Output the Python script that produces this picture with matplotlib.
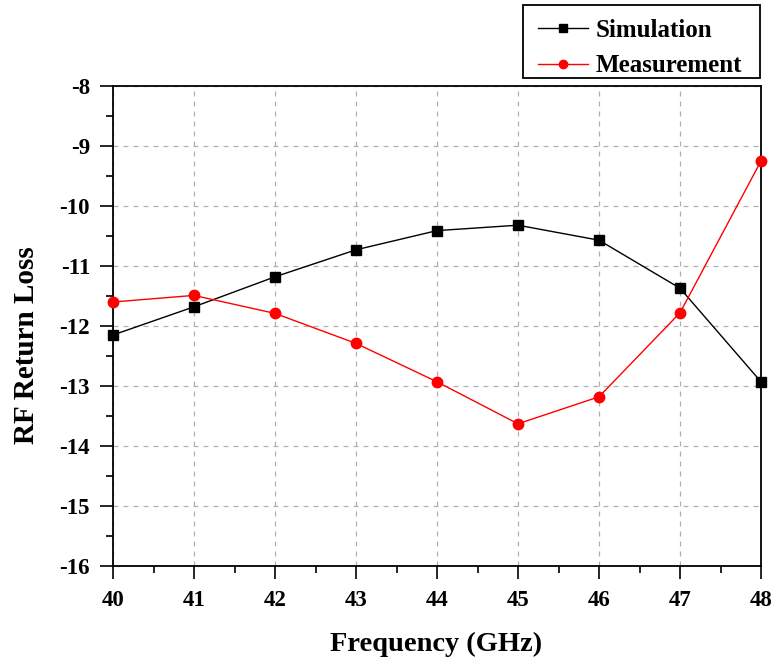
import matplotlib
matplotlib.use("Agg")
import matplotlib.pyplot as plt
from matplotlib.patches import Rectangle
from matplotlib.ticker import MultipleLocator

freq = [40, 41, 42, 43, 44, 45, 46, 47, 48]
simulation = [-12.15, -11.68, -11.18, -10.73, -10.41, -10.32, -10.57, -11.37, -12.93]
measurement = [-11.60, -11.49, -11.79, -12.29, -12.93, -13.63, -13.18, -11.78, -9.25]
x_ticks = [40, 41, 42, 43, 44, 45, 46, 47, 48]
y_ticks = [-16, -15, -14, -13, -12, -11, -10, -9, -8]

plt.rcParams["font.family"] = ["Liberation Serif", "DejaVu Serif"]
plt.rcParams["font.weight"] = "bold"

W, H = 775, 666
fig = plt.figure(figsize=(W / 100, H / 100), dpi=100)
ax = fig.add_axes([113 / W, 100 / H, (761 - 113) / W, (566 - 86) / H])

ax.plot(freq, simulation, color="black", lw=1.0, marker="s", ms=7,
        label="Simulation", clip_on=False, zorder=3)
ax.plot(freq, measurement, color="red", lw=1.0, marker="o", ms=7.5,
        label="Measurement", clip_on=False, zorder=3)

ax.set_xlim(40, 48)
ax.set_ylim(-16, -8)
ax.set_xticks(x_ticks)
ax.set_yticks(y_ticks)
ax.set_xticklabels([str(v) for v in x_ticks])
ax.set_yticklabels([str(v) for v in y_ticks])
ax.xaxis.set_minor_locator(MultipleLocator(0.5))
ax.yaxis.set_minor_locator(MultipleLocator(0.5))
ax.tick_params(which="major", direction="out", length=9.5, width=1.2,
               labelsize=16.5, top=False, right=False)
ax.tick_params(axis="y", which="major", pad=7)
ax.tick_params(axis="x", which="major", pad=8)
ax.tick_params(which="minor", direction="out", length=5, width=1.2,
               top=False, right=False)
for lab in ax.get_xticklabels() + ax.get_yticklabels():
    lab.set_fontweight("bold")

ax.grid(True, which="major", color="#b0b0b0", linestyle=(0, (4, 4)), lw=0.9)
for sp in ax.spines.values():
    sp.set_linewidth(1.3)

ax.set_xlabel("Frequency (GHz)", fontsize=20.5, fontweight="bold")
ax.set_ylabel("RF Return Loss", fontsize=21, fontweight="bold")
ax.xaxis.set_label_coords(0.4985, -0.137)
ax.yaxis.set_label_coords(-0.113, 0.46)

# legend entries without their own frame, boxed by a plain rectangle
leg = fig.legend(loc="upper left", bbox_to_anchor=(538 / W, 1 - 19 / H),
                 fontsize=18, frameon=False, handlelength=2.0,
                 borderpad=0, labelspacing=0.5, handletextpad=0.3,
                 borderaxespad=0, markerscale=0.8)
for t in leg.get_texts():
    t.set_fontweight("bold")
fig.patches.append(Rectangle((523 / W, 1 - 78 / H), (760 - 523) / W, 73 / H,
                             transform=fig.transFigure, fill=False,
                             edgecolor="black", linewidth=1.3))

fig.savefig("out.png", dpi=100)
